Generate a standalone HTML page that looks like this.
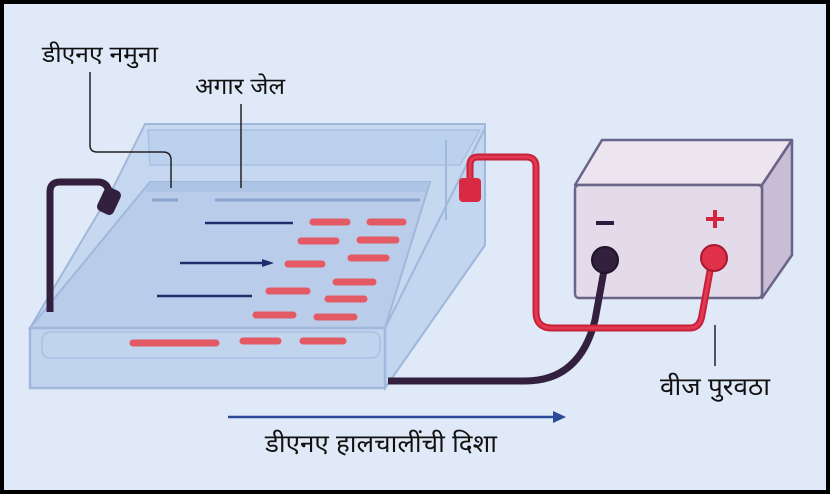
<!DOCTYPE html>
<html><head><meta charset="utf-8"><style>
html,body{margin:0;padding:0}
body{width:830px;height:494px;overflow:hidden;background:#000}
svg{display:block}
text{font-family:"Liberation Sans","Noto Sans CJK SC",sans-serif;fill:#111}
</style></head><body>
<svg width="830" height="494" viewBox="0 0 830 494" xmlns="http://www.w3.org/2000/svg">
<rect x="4" y="4" width="822" height="486" fill="#dfe9f7"/>
<!-- tank back wall -->
<polygon points="145,124 485,124 485,245 385,388 30,388 30,328 112,190 145,124" fill="#c6d8f0" stroke="#9fb8db" stroke-width="2"/>
<polygon points="148,130 480,130 460,165 150,165" fill="#bcd1ee" stroke="#a8c0e2" stroke-width="1.5"/>
<!-- gel plane -->
<polygon points="150,182 430,182 385,328 30,328" fill="#b9cdea" stroke="#9fb8db" stroke-width="2"/>
<polygon points="150,182 430,182 425,192 145,192" fill="#aec4e6"/>
<line x1="215" y1="200" x2="420" y2="200" stroke="#8aa3cc" stroke-width="3"/>
<line x1="152" y1="200" x2="178" y2="200" stroke="#8aa3cc" stroke-width="3"/>
<!-- right face -->
<polygon points="385,328 485,128 485,245 385,388" fill="#c3d6ef" stroke="#9fb8db" stroke-width="2"/>
<line x1="446" y1="140" x2="446" y2="220" stroke="#9fb8db" stroke-width="2"/>
<!-- front face -->
<rect x="30" y="328" width="355" height="60" fill="#c0d4ee" stroke="#9fb8db" stroke-width="2.5"/>
<rect x="42" y="332" width="338" height="26" rx="8" fill="none" stroke="#a9c0e2" stroke-width="1.5"/>
<!-- bands -->
<g stroke="#e45a64" stroke-width="7" stroke-linecap="round">
<line x1="313" y1="222" x2="347" y2="222"/><line x1="370" y1="222" x2="403" y2="222"/>
<line x1="301" y1="241" x2="336" y2="241"/><line x1="360" y1="240" x2="396" y2="240"/>
<line x1="351" y1="258" x2="386" y2="258"/><line x1="288" y1="264" x2="322" y2="264"/>
<line x1="336" y1="282" x2="373" y2="282"/><line x1="269" y1="291" x2="307" y2="291"/>
<line x1="328" y1="299" x2="364" y2="299"/><line x1="256" y1="315" x2="293" y2="315"/>
<line x1="317" y1="317" x2="354" y2="317"/>
<line x1="133" y1="343" x2="216" y2="343"/><line x1="243" y1="341" x2="278" y2="341"/>
<line x1="303" y1="341" x2="343" y2="341"/>
</g>
<g stroke="#1f2f6e" stroke-width="2.5">
<line x1="205" y1="223" x2="293" y2="223"/>
<line x1="180" y1="263" x2="264" y2="263"/>
<line x1="157" y1="296" x2="252" y2="296"/>
</g>
<polygon points="262,259 274,263 262,267" fill="#1f2f6e"/>
<!-- label lines -->
<path d="M90,72 L90,145 Q90,152 97,152 L163,152 Q171,152 171,160 L171,188" fill="none" stroke="#222" stroke-width="1.5"/>
<line x1="241" y1="104" x2="241" y2="188" stroke="#222" stroke-width="1.5"/>
<line x1="715" y1="325" x2="715" y2="366" stroke="#222" stroke-width="1.5"/>
<!-- power box -->
<polygon points="575,185 602,140 792,140 762,185" fill="#ece4ef" stroke="#6a6488" stroke-width="2.5" stroke-linejoin="round"/>
<polygon points="762,185 792,140 792,255 762,298" fill="#c9bdd6" stroke="#6a6488" stroke-width="2.5" stroke-linejoin="round"/>
<rect x="575" y="185" width="187" height="113" rx="4" fill="#e3dbe9" stroke="#6a6488" stroke-width="2.5"/>
<line x1="596" y1="223" x2="614" y2="223" stroke="#2b1c3d" stroke-width="4"/>
<line x1="706" y1="219" x2="724" y2="219" stroke="#d6263e" stroke-width="4"/>
<line x1="715" y1="210" x2="715" y2="228" stroke="#d6263e" stroke-width="4"/>
<!-- cables -->
<path d="M50,312 L50,192 Q50,182 60,182 L98,182 Q108,182 110,195" fill="none" stroke="#33203f" stroke-width="7"/>
<rect x="100" y="188" width="18" height="26" rx="5" fill="#33203f" transform="rotate(25 109 201)"/>
<path d="M388,381 L525,381 Q580,381 595,320 L605,265" fill="none" stroke="#33203f" stroke-width="7"/>
<circle cx="605" cy="260" r="13" fill="#33203f" stroke="#1e1328" stroke-width="2"/>
<path d="M470,182 L470,165 Q470,157 478,157 L526,157 Q536,157 536,167 L536,312 Q536,328 552,328 L690,328 Q700,328 702,315 L712,260" fill="none" stroke="#c8203a" stroke-width="7"/>
<path d="M470,182 L470,165 Q470,157 478,157 L526,157 Q536,157 536,167 L536,312 Q536,328 552,328 L690,328 Q700,328 702,315 L712,260" fill="none" stroke="#e23a52" stroke-width="3"/>
<rect x="459" y="178" width="22" height="24" rx="4" fill="#d92a44"/>
<circle cx="714" cy="258" r="13" fill="#e0304a" stroke="#a51a30" stroke-width="2"/>
<!-- direction arrow -->
<line x1="228" y1="417" x2="555" y2="417" stroke="#2a4a9a" stroke-width="2.5"/>
<polygon points="553,411 566,417 553,423" fill="#2a4a9a"/>
<!-- labels -->
<text x="42" y="62" font-size="23" textLength="116" lengthAdjust="spacingAndGlyphs">डीएनए नमुना</text>
<text x="195" y="94" font-size="23" textLength="90" lengthAdjust="spacingAndGlyphs">अगार जेल</text>
<text x="660" y="395" font-size="25" textLength="110" lengthAdjust="spacingAndGlyphs">वीज पुरवठा</text>
<text x="265" y="452" font-size="25" textLength="232" lengthAdjust="spacingAndGlyphs">डीएनए हालचालींची दिशा</text>
</svg>
</body></html>
